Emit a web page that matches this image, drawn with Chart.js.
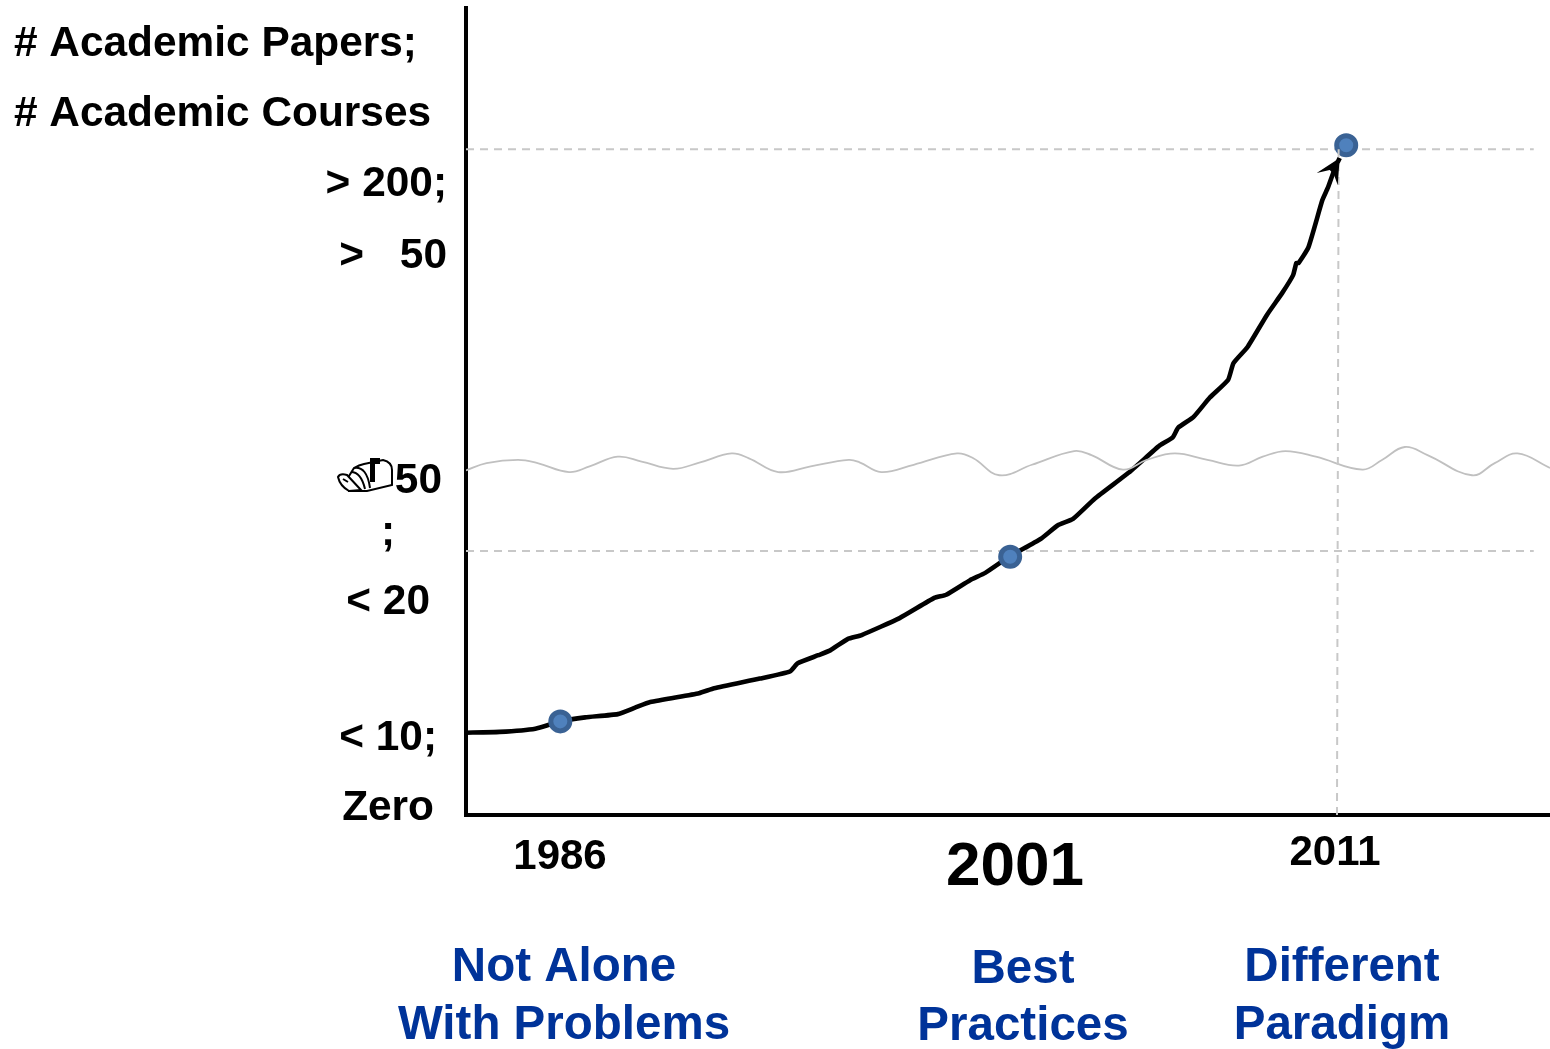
<!DOCTYPE html>
<html>
<head>
<meta charset="utf-8">
<title>Chart</title>
<script src="https://cdn.jsdelivr.net/npm/chart.js"></script>
<style>
  html, body { margin: 0; padding: 0; background: #fff; overflow: hidden; }
  canvas { display: block; }
</style>
</head>
<body>
<canvas id="growth" width="1550" height="1049"></canvas>
<script>
var curveX = [0, 3.1, 6.4, 8.7, 11.0, 14.0, 15.6, 17.0, 21.5, 22.9, 27.1, 29.9, 30.6, 32.5, 33.6, 35.2, 36.5, 40.0, 43.2, 44.3, 46.5, 47.9, 50.1, 53.0, 54.6, 56.0, 58.0, 61.3, 64.0, 65.2, 65.7, 67.1, 68.6, 70.3, 70.8, 72.1, 73.9, 75.3, 76.3, 76.6, 76.8, 77.7, 79.0, 79.5, 80.2, 80.6];
var curveY = [10.2, 10.3, 10.7, 11.6, 12.1, 12.5, 13.3, 14.0, 15.1, 15.7, 16.9, 17.8, 18.8, 19.8, 20.4, 21.8, 22.3, 24.4, 26.9, 27.3, 29.1, 30.0, 32.0, 34.2, 35.9, 36.7, 39.2, 42.6, 45.8, 46.8, 48.0, 49.3, 51.7, 53.9, 56.0, 58.0, 62.0, 64.7, 66.9, 68.4, 68.4, 70.3, 76.2, 77.7, 80.3, 81.4];

var waveX = [0, 1.9, 4.8, 6.6, 9.5, 11.4, 14.0, 16.2, 19.1, 21.6, 24.5, 26.1, 28.8, 31.8, 35.3, 36.3, 38.3, 41.3, 45.3, 46.8, 49.2, 52.2, 56.1, 57.7, 60.6, 62.8, 65.4, 68.4, 71.3, 73.5, 75.6, 78.4, 82.7, 84.5, 86.6, 88.7, 92.8, 94.9, 97.0, 100];
var waveY = [42.7, 43.6, 44.0, 43.6, 42.5, 43.2, 44.4, 43.8, 42.9, 43.7, 44.8, 44.2, 42.5, 43.2, 44.0, 43.7, 42.5, 43.4, 44.8, 44.2, 42.1, 43.4, 45.1, 44.6, 42.8, 44.0, 44.8, 44.0, 43.3, 44.4, 45.1, 44.4, 42.8, 44.0, 45.6, 44.6, 42.1, 43.6, 44.8, 43.0];

var milestoneX = [8.7, 50.2, 81.2];
var milestoneY = [11.6, 32.0, 83.0];

var guideTopY = 82.5;
var guideMidY = 32.7;
var guideEndX = 98.5;
var guideVertX = [80.35, 80.5];

var axisTitle = ['# Academic Papers;', '# Academic Courses'];
var yLabels = ['> 200;', '>', '50', '50', ';', '< 20', '< 10;', 'Zero'];
var yearLabels = ['1986', '2001', '2011'];
var stageLabels = [['Not Alone', 'With Problems'], ['Best', 'Practices'], ['Different', 'Paradigm']];

function xy(xs, ys) {
  var out = [];
  for (var i in xs) {
    out.push({x: xs[i], y: ys[i]});
  }
  return out;
}

var BLACK = '#000';
var BLUE = '#003399';
var GUIDE = '#C8C8C8';
var dash = [8, 6];

function put(ctx, text, x, y, size, align, color) {
  ctx.font = 'bold ' + size + 'px "Liberation Sans", Arial, sans-serif';
  ctx.textAlign = align;
  ctx.textBaseline = 'alphabetic';
  ctx.fillStyle = color || BLACK;
  ctx.fillText(text, x, y);
}

function drawMailbox(ctx, x, y) {
  ctx.save();
  ctx.translate(x, y);
  ctx.strokeStyle = BLACK;
  ctx.fillStyle = '#fff';
  ctx.lineWidth = 2;
  // box
  ctx.beginPath();
  ctx.moveTo(17, 10);
  ctx.quadraticCurveTo(22, 7, 27, 6);
  ctx.lineTo(46, 2);
  ctx.quadraticCurveTo(55, 4, 55, 12);
  ctx.lineTo(55, 27);
  ctx.lineTo(30, 33);
  ctx.lineTo(12, 33);
  ctx.lineTo(12, 18);
  ctx.closePath();
  ctx.fill();
  ctx.stroke();
  // door
  ctx.beginPath();
  ctx.moveTo(1, 19);
  ctx.quadraticCurveTo(3, 15, 10, 17);
  ctx.lineTo(24, 32);
  ctx.lineTo(12, 33);
  ctx.quadraticCurveTo(3, 28, 1, 19);
  ctx.closePath();
  ctx.fill();
  ctx.stroke();
  // arcs inside the opening
  ctx.beginPath();
  ctx.moveTo(14, 14);
  ctx.quadraticCurveTo(24, 14, 28, 31);
  ctx.moveTo(17, 10);
  ctx.quadraticCurveTo(30, 8, 33, 30);
  ctx.moveTo(6, 21);
  ctx.lineTo(11, 24);
  ctx.stroke();
  // flag
  ctx.fillStyle = BLACK;
  ctx.fillRect(33, 1, 5, 23);
  ctx.fillRect(33, 0, 10, 6);
  ctx.restore();
}

var textPlugin = {
  id: 'chartText',
  afterDraw: function(chart) {
    var ctx = chart.ctx;
    ctx.save();

    put(ctx, axisTitle[0], 14, 56, 42.4, 'left');
    put(ctx, axisTitle[1], 14, 126, 42.4, 'left');

    put(ctx, yLabels[0], 447, 196, 42.4, 'right');
    put(ctx, yLabels[1], 364, 268, 42.4, 'right');
    put(ctx, yLabels[2], 447, 268, 42.4, 'right');
    drawMailbox(ctx, 337, 458);
    put(ctx, yLabels[3], 442, 493, 42.4, 'right');
    put(ctx, yLabels[4], 388, 545, 42.4, 'center');
    put(ctx, yLabels[5], 430, 614, 42.4, 'right');
    put(ctx, yLabels[6], 437, 750, 42.4, 'right');
    put(ctx, yLabels[7], 434, 820, 42.4, 'right');

    put(ctx, yearLabels[0], 560, 869, 42, 'center');
    put(ctx, yearLabels[1], 1015, 885, 62, 'center');
    put(ctx, yearLabels[2], 1335, 865, 42, 'center');

    put(ctx, stageLabels[0][0], 564, 981, 47.5, 'center', BLUE);
    put(ctx, stageLabels[0][1], 564, 1039, 47.5, 'center', BLUE);
    put(ctx, stageLabels[1][0], 1023, 983, 47.5, 'center', BLUE);
    put(ctx, stageLabels[1][1], 1023, 1040, 47.5, 'center', BLUE);
    put(ctx, stageLabels[2][0], 1342, 981, 47.5, 'center', BLUE);
    put(ctx, stageLabels[2][1], 1342, 1039, 47.5, 'center', BLUE);

    ctx.restore();
  }
};

// arrow head on the last point of the curve
var arrowPlugin = {
  id: 'arrowHead',
  afterDatasetsDraw: function(chart) {
    var ctx = chart.ctx;
    var tipX = chart.scales.x.getPixelForValue(curveX[curveX.length - 1]);
    var tipY = chart.scales.y.getPixelForValue(curveY[curveY.length - 1]);
    ctx.save();
    ctx.fillStyle = BLACK;
    ctx.beginPath();
    ctx.moveTo(tipX, tipY);
    ctx.lineTo(tipX - 23, tipY + 15);
    ctx.lineTo(tipX - 10, tipY + 12);
    ctx.lineTo(tipX - 6, tipY + 16);
    ctx.lineTo(tipX - 2, tipY + 27);
    ctx.closePath();
    ctx.fill();
    ctx.restore();
  }
};

var chartdata = {
  datasets: [
    {
      label: 'guide top',
      data: xy([0, guideEndX], [guideTopY, guideTopY]),
      showLine: true,
      borderColor: GUIDE, borderWidth: 2, borderDash: dash, pointRadius: 0, order: 5
    },
    {
      label: 'guide middle',
      data: xy([0, guideEndX], [guideMidY, guideMidY]),
      showLine: true,
      borderColor: GUIDE, borderWidth: 2, borderDash: dash, pointRadius: 0, order: 5
    },
    {
      label: 'curve',
      data: xy(curveX, curveY),
      showLine: true,
      borderColor: BLACK, borderWidth: 4.6, pointRadius: 0, tension: 0.15, order: 4
    },
    {
      label: 'wave',
      data: xy(waveX, waveY),
      showLine: true,
      borderColor: '#C0C0C0', borderWidth: 1.8, pointRadius: 0, tension: 0.4, order: 3
    },
    {
      label: 'milestones',
      data: xy(milestoneX, milestoneY),
      showLine: false, pointRadius: 9.5, borderWidth: 5,
      pointBackgroundColor: '#4F81BD', pointBorderColor: '#3A6294', order: 2
    },
    {
      label: 'guide vertical',
      data: xy(guideVertX, [0, guideTopY]),
      showLine: true,
      borderColor: GUIDE, borderWidth: 2, borderDash: dash, pointRadius: 0, order: 1
    }
  ]
};

new Chart(document.getElementById('growth'), {
  type: 'scatter',
  data: chartdata,
  plugins: [arrowPlugin, textPlugin],
  options: {
    responsive: false,
    animation: false,
    events: [],
    layout: { autoPadding: false, padding: { left: 466, top: 8, right: 0, bottom: 234 } },
    elements: { line: { fill: false } },
    plugins: {
      legend: { display: false },
      title: { display: false },
      tooltip: { enabled: false }
    },
    scales: {
      x: {
        type: 'linear', min: 0, max: 100,
        grid: { display: false },
        ticks: { display: false },
        border: { color: BLACK, width: 4 },
        afterFit: function(scale) { scale.height = 0; }
      },
      y: {
        type: 'linear', min: 0, max: 100,
        grid: { display: false },
        ticks: { display: false },
        border: { color: BLACK, width: 4 },
        afterFit: function(scale) { scale.width = 0; }
      }
    }
  }
});
</script>
</body>
</html>
